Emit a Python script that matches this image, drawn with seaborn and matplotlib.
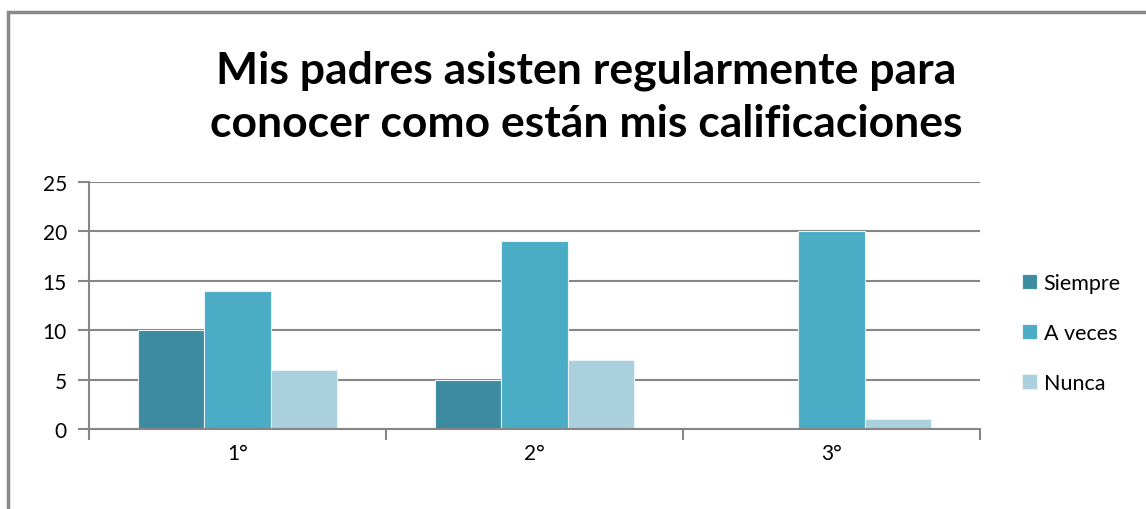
import matplotlib
matplotlib.use("Agg")
import matplotlib.pyplot as plt
import seaborn as sns
import pandas as pd
from matplotlib.patches import Rectangle

categories = ["1°", "2°", "3°"]
series = ["Siempre", "A veces", "Nunca"]
siempre = [10, 5, 0]
a_veces = [14, 19, 20]
nunca = [6, 7, 1]
colors = ["#3D8BA1", "#4BACC6", "#AACFDD"]
title = "Mis padres asisten regularmente para\nconocer como están mis calificaciones"

rows = []
for name, vals in zip(series, [siempre, a_veces, nunca]):
    for c, v in zip(categories, vals):
        rows.append({"cat": c, "serie": name, "valor": v})
df = pd.DataFrame(rows)

sns.set_theme(style="white")
plt.rcParams["font.family"] = ["Lato", "DejaVu Sans"]
plt.rcParams["text.color"] = "black"

fig = plt.figure(figsize=(11.46, 5.10), dpi=100)
ax = fig.add_axes([89/1146, 1-430/510, (980-89)/1146, (430-183)/510])

sns.barplot(data=df, x="cat", y="valor", hue="serie", order=categories,
            hue_order=series, palette=colors, saturation=1, width=0.667, ax=ax,
            edgecolor="#E8F2F6", linewidth=0.8, legend=True)

ax.set_xlim(-0.5, 2.5)
ax.set_ylim(0, 25)
ax.set_yticks([0, 5, 10, 15, 20, 25])
ax.yaxis.grid(True, color="#868686", linewidth=1.5)
ax.set_axisbelow(True)
ax.set_xlabel("")
ax.set_ylabel("")
for s in ["top", "right"]:
    ax.spines[s].set_visible(False)
for s in ["left", "bottom"]:
    ax.spines[s].set_color("#868686")
    ax.spines[s].set_linewidth(1.5)
ax.tick_params(axis="y", length=8, width=1.5, color="#868686", labelsize=15, pad=8, left=True,
               labelcolor="black")
ax.tick_params(axis="x", which="major", length=0, labelsize=15, pad=10, labelcolor="black")
ax.set_xticks([-0.5, 0.5, 1.5, 2.5], minor=True)
ax.tick_params(axis="x", which="minor", length=8, width=1.5, color="#868686", bottom=True)

leg = ax.legend(loc="center left", bbox_to_anchor=(1022/1146, 1-334/510),
                bbox_transform=fig.transFigure, frameon=False, fontsize=15.5,
                handlelength=0.7, handleheight=0.7, handletextpad=0.3,
                labelspacing=1.4, borderaxespad=0, borderpad=0)
for t in leg.get_texts():
    t.set_color("black")

fig.text(586/1146, 1-97/510, title, ha="center", va="center", fontsize=32,
         fontweight="bold", linespacing=1.38, color="black")

fig.patches.append(Rectangle((8/1146, -0.1), 1.2, 1 - 13/510 + 0.1,
                             transform=fig.transFigure, fill=False,
                             edgecolor="#888888", linewidth=2.5))

fig.savefig("out.png", dpi=100)
